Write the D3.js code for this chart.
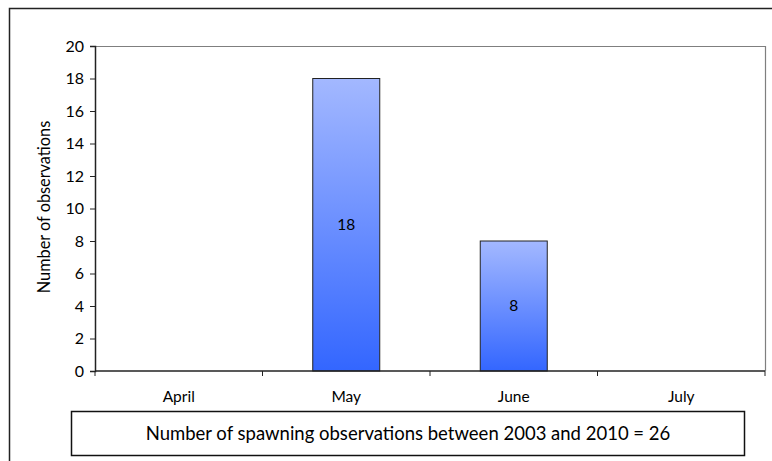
<!DOCTYPE html>
<html><head><meta charset="utf-8">
<script src="https://cdn.jsdelivr.net/npm/d3@7"></script>
<style>
body{margin:0;background:#fff;}
svg{display:block;}
text{font-family:Lato,sans-serif;fill:#000;}
</style></head>
<body>
<svg id="chart" width="772" height="461"></svg>
<script>
const months = ["April","May","June","July"];
const counts = [0,18,8,0];
const yTicks = [0,2,4,6,8,10,12,14,16,18,20];
const note = "Number of spawning observations between 2003 and 2010 = 26";
const yTitle = "Number of observations";

const svg = d3.select("#chart");
const m = {left:95, top:46, right:765, bottom:371};

svg.append("rect").attr("x",9.5).attr("y",8.5).attr("width",780).attr("height",480)
  .attr("fill","none").attr("stroke","#222").attr("stroke-width",1.5);

const x = d3.scaleBand().domain(months).range([m.left,m.right]).paddingInner(0.6).paddingOuter(0.3);
const y = d3.scaleLinear().domain([0,20]).range([m.bottom,m.top]);

const defs = svg.append("defs");
const g = defs.append("linearGradient").attr("id","barGrad").attr("x1",0).attr("y1",0).attr("x2",0).attr("y2",1);
g.append("stop").attr("offset","0%").attr("stop-color","#a3b8ff");
g.append("stop").attr("offset","100%").attr("stop-color","#3366ff");

svg.append("path").attr("d",`M${m.left},${m.top+0.5}H${m.right+0.5}V${m.bottom}`)
  .attr("fill","none").attr("stroke","#7f7f7f").attr("stroke-width",1.2);

const data = counts.map((v,i)=>({m:months[i],v})).filter(d=>d.v>0);
svg.selectAll("rect.bar").data(data)
  .enter().append("rect").attr("class","bar")
  .attr("x",d=>x(d.m)).attr("width",x.bandwidth())
  .attr("y",d=>y(d.v)).attr("height",d=>y(0)-y(d.v))
  .attr("fill","url(#barGrad)").attr("stroke","#222").attr("stroke-width",1);

svg.selectAll("text.val").data(data)
  .enter().append("text").attr("class","val")
  .attr("x",d=>x(d.m)+x.bandwidth()/2).attr("y",d=>(y(d.v)+y(0))/2)
  .attr("text-anchor","middle").attr("dy","0.35em").attr("font-size",15.5).text(d=>d.v);

const ya = svg.append("g").attr("transform",`translate(${m.left},0)`)
  .call(d3.axisLeft(y).tickValues(yTicks).tickSize(5).tickPadding(6));
ya.select(".domain").attr("stroke","#222").attr("stroke-width",1.5);
ya.selectAll(".tick line").attr("stroke","#222");
ya.selectAll(".tick text").attr("font-size",16).attr("font-family","Lato,sans-serif").attr("fill","#000");

const step = x.step();
const bounds = months.map((d,i)=>m.left + i*step).concat([m.right]);
const xa = svg.append("g").attr("transform",`translate(0,${m.bottom})`);
xa.append("line").attr("x1",m.left).attr("x2",m.right).attr("stroke","#222").attr("stroke-width",1.5);
xa.selectAll("line.tk").data(bounds).enter().append("line").attr("class","tk")
  .attr("x1",d=>d).attr("x2",d=>d).attr("y1",0).attr("y2",5).attr("stroke","#222");
xa.selectAll("text").data(months).enter().append("text")
  .attr("x",d=>x(d)+x.bandwidth()/2).attr("y",26).attr("dy","0.35em")
  .attr("text-anchor","middle").attr("font-size",15.5).text(d=>d);

svg.append("text").attr("transform","translate(44,207) rotate(-90)")
  .attr("text-anchor","middle").attr("dy","0.35em").attr("font-size",16.3).text(yTitle);

svg.append("rect").attr("x",71.5).attr("y",411.5).attr("width",673).attr("height",44)
  .attr("fill","#fff").attr("stroke","#111").attr("stroke-width",1.5);
svg.append("text").attr("x",408).attr("y",434).attr("dy","0.35em").attr("text-anchor","middle")
  .attr("font-size",18.5).text(note);
</script>
</body></html>
